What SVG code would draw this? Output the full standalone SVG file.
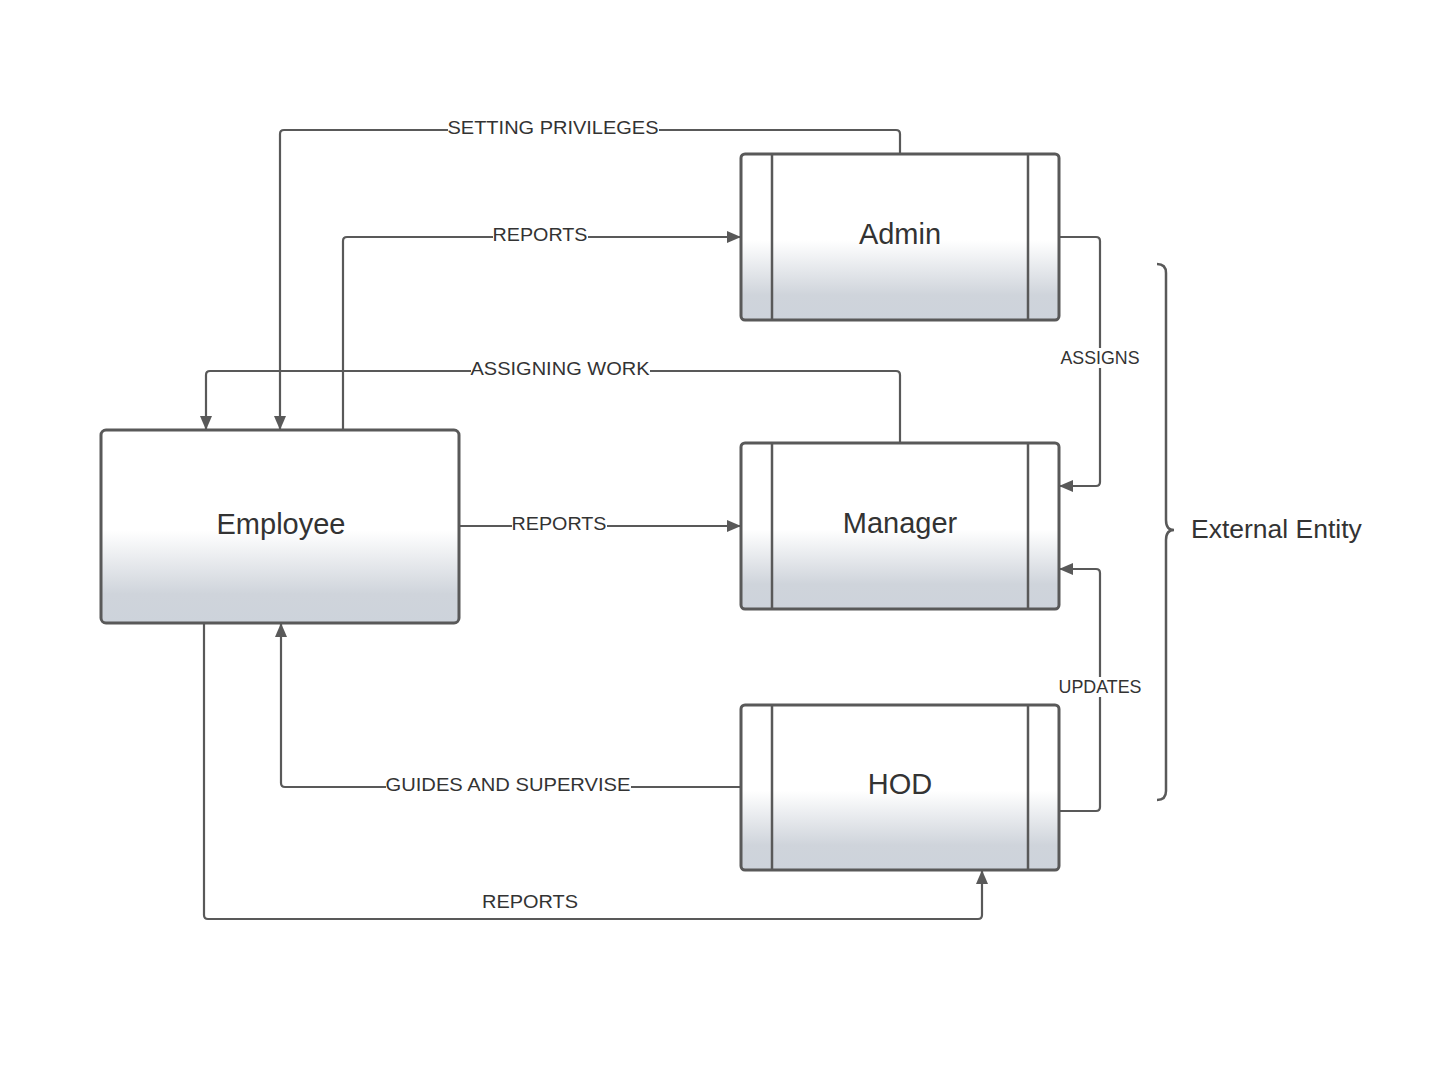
<svg xmlns="http://www.w3.org/2000/svg" width="1441" height="1068" viewBox="0 0 1441 1068">
<defs>
<linearGradient id="g" x1="0" y1="0" x2="0" y2="1">
<stop offset="0" stop-color="#ffffff"/>
<stop offset="0.52" stop-color="#ffffff"/>
<stop offset="0.85" stop-color="#cfd4db"/>
<stop offset="1" stop-color="#cdd3db"/>
</linearGradient>
<marker id="arr" viewBox="0 0 14 12" refX="13" refY="6" markerWidth="14" markerHeight="12" markerUnits="userSpaceOnUse" orient="auto">
<path d="M0,0 L14,6 L0,12 z" fill="#595959"/>
</marker>
<style>
.box{fill:url(#g);stroke:#595959;stroke-width:3}
.bar{stroke:#595959;stroke-width:2.5}
.name{font-family:"Liberation Sans",Arial,sans-serif;font-size:29px;fill:#333;text-anchor:middle}
.ln{fill:none;stroke:#595959;stroke-width:2.2;stroke-linejoin:round}
.lbl{font-family:"Liberation Sans",Arial,sans-serif;font-size:18px;fill:#333;text-anchor:middle}
.bg{fill:#fff}
</style>
</defs>
<rect width="1441" height="1068" fill="#fff"/>
<g id="connectors">
<path class="ln" d="M900,154 V134 Q900,130 896,130 H284 Q280,130 280,134 V429" marker-end="url(#arr)"/>
<path class="ln" d="M343,430 V241 Q343,237 347,237 H740" marker-end="url(#arr)"/>
<path class="ln" d="M900,443 V375 Q900,371 896,371 H210 Q206,371 206,375 V429" marker-end="url(#arr)"/>
<path class="ln" d="M459,526 H740" marker-end="url(#arr)"/>
<path class="ln" d="M1059,237 H1096 Q1100,237 1100,241 V482 Q1100,486 1096,486 H1060" marker-end="url(#arr)"/>
<path class="ln" d="M1059,811 H1096 Q1100,811 1100,807 V573 Q1100,569 1096,569 H1060" marker-end="url(#arr)"/>
<path class="ln" d="M741,787 H285 Q281,787 281,783 V624" marker-end="url(#arr)"/>
<path class="ln" d="M204,623 V915 Q204,919 208,919 H978 Q982,919 982,915 V871" marker-end="url(#arr)"/>
<rect class="bg" x="448" y="119" width="211" height="18"/>
<text class="lbl" x="553" y="134" textLength="211" lengthAdjust="spacingAndGlyphs">SETTING PRIVILEGES</text>
<rect class="bg" x="493" y="226" width="95" height="18"/>
<text class="lbl" x="540" y="241" textLength="95" lengthAdjust="spacingAndGlyphs">REPORTS</text>
<rect class="bg" x="471" y="360" width="179" height="18"/>
<text class="lbl" x="560" y="375" textLength="179" lengthAdjust="spacingAndGlyphs">ASSIGNING WORK</text>
<rect class="bg" x="512" y="515" width="95" height="18"/>
<text class="lbl" x="559" y="530" textLength="95" lengthAdjust="spacingAndGlyphs">REPORTS</text>
<rect class="bg" x="1060" y="348" width="81" height="20"/>
<text class="lbl" x="1100" y="364" textLength="79" lengthAdjust="spacingAndGlyphs">ASSIGNS</text>
<rect class="bg" x="1058" y="677" width="85" height="20"/>
<text class="lbl" x="1100" y="693" textLength="83" lengthAdjust="spacingAndGlyphs">UPDATES</text>
<rect class="bg" x="386" y="776" width="245" height="18"/>
<text class="lbl" x="508" y="791" textLength="245" lengthAdjust="spacingAndGlyphs">GUIDES AND SUPERVISE</text>
<text class="lbl" x="530" y="908" textLength="96" lengthAdjust="spacingAndGlyphs">REPORTS</text>
</g>
<g id="admin">
<rect class="box" x="741" y="154" width="318" height="166" rx="4"/>
<line class="bar" x1="772" y1="154" x2="772" y2="320"/>
<line class="bar" x1="1028" y1="154" x2="1028" y2="320"/>
<text class="name" x="900" y="244">Admin</text>
</g>
<g id="manager">
<rect class="box" x="741" y="443" width="318" height="166" rx="4"/>
<line class="bar" x1="772" y1="443" x2="772" y2="609"/>
<line class="bar" x1="1028" y1="443" x2="1028" y2="609"/>
<text class="name" x="900" y="533">Manager</text>
</g>
<g id="hod">
<rect class="box" x="741" y="705" width="318" height="165" rx="4"/>
<line class="bar" x1="772" y1="705" x2="772" y2="870"/>
<line class="bar" x1="1028" y1="705" x2="1028" y2="870"/>
<text class="name" x="900" y="794">HOD</text>
</g>
<g id="employee">
<rect class="box" x="101" y="430" width="358" height="193" rx="5"/>
<text class="name" x="281" y="534">Employee</text>
</g>
<g id="external">
<path d="M1157,264 Q1166,264 1166,273 V520 Q1166,530 1174,530 Q1166,530 1166,540 V791 Q1166,800 1157,800" fill="none" stroke="#595959" stroke-width="2.5"/>
<text x="1191" y="538" font-family="Liberation Sans,Arial,sans-serif" font-size="26.5" fill="#333">External Entity</text>
</g>
</svg>
